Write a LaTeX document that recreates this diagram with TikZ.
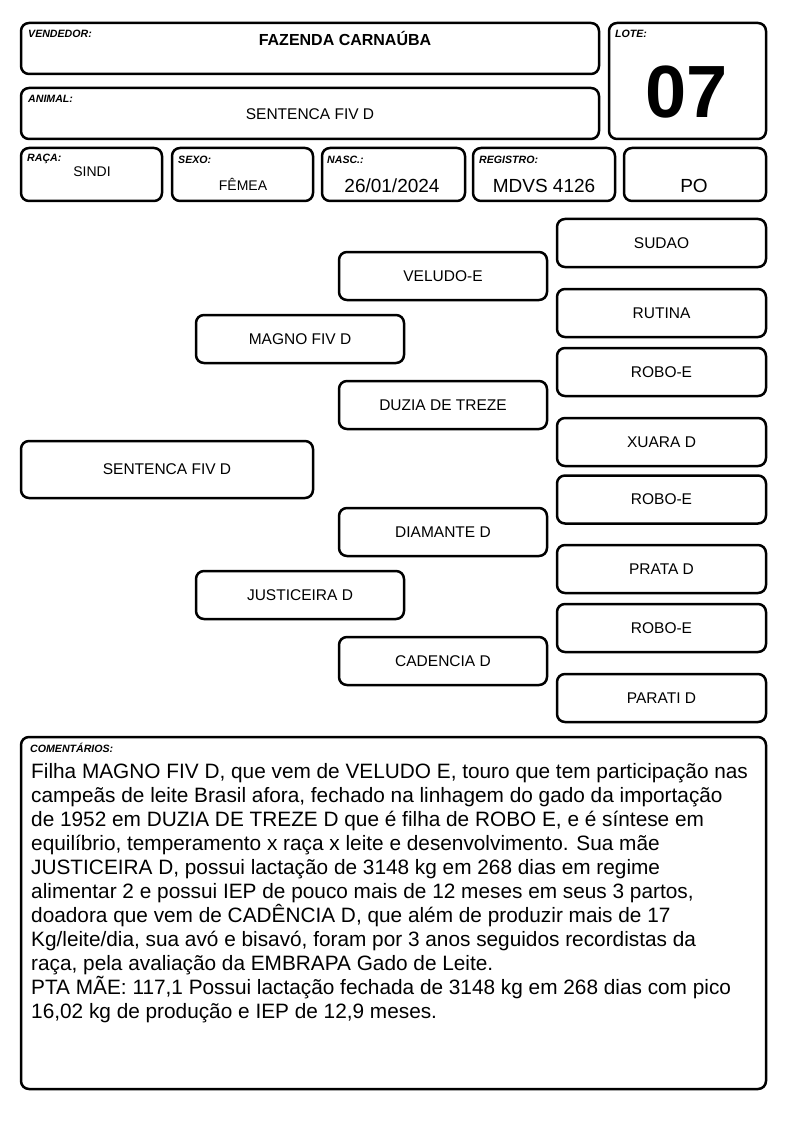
\documentclass[tikz,border=0pt]{standalone}
\usepackage{fontspec}
\setmainfont{Liberation Sans}
\usetikzlibrary{positioning}

\begin{document}
\begin{tikzpicture}%
	[x=1pt, y=-1pt,
	box/.style={draw, line width=2.5pt, rounded corners=8pt, inner sep=0pt},
	tag/.style={anchor=north west, inner sep=0pt, font=\fontsize{10.6}{11}\selectfont\bfseries\itshape},
	value/.style={inner sep=0pt, font=\fontsize{14}{16}\selectfont},
	bigvalue/.style={inner sep=0pt, font=\fontsize{19}{21}\selectfont},
	cell/.style={box, minimum height=53pt},
	ancestor/.style={box, minimum width=208pt, minimum height=48pt, font=\fontsize{15.5}{18}\selectfont},
	outer/.style={box, minimum width=209pt, minimum height=48pt, font=\fontsize{15.5}{18}\selectfont}]
%
\useasboundingbox (0,0) rectangle (794,1123);
%%
%% Header
%%
\node[box, minimum width=578pt, minimum height=51pt] (vendedor) at (310,48.5) {};
\node[tag] (vendedortag) at (28,30) {VENDEDOR:};
\node[inner sep=0pt, font=\fontsize{16}{18}\selectfont\bfseries] (vendedorname) at (345,38) {FAZENDA CARNAÚBA};
%
\node[box, minimum width=578pt, minimum height=51pt] (animal) at (310,113.5) {};
\node[tag] (animaltag) at (28,95) {ANIMAL:};
\node[inner sep=0pt, font=\fontsize{15.5}{18}\selectfont] (animalname) at (310,114) {SENTENCA FIV D};
%
\node[box, minimum width=157pt, minimum height=116pt] (lote) at (687.5,81) {};
\node[tag] (lotetag) at (615,30) {LOTE:};
\node[inner sep=0pt, font=\fontsize{74}{80}\selectfont\bfseries] (lotenum) at (687,92) {07};
%%
%% Data row
%%
\node[cell, minimum width=141pt] (raca) at (91.5,174.5) {};
\node[tag] (racatag) at (27,154) {RAÇA:};
\node[value] (racaval) at (92,172) {SINDI};
%
\node[cell, minimum width=141pt] (sexo) at (242.5,174.5) {};
\node[tag] (sexotag) at (178,156) {SEXO:};
\node[value] (sexoval) at (243,184) {FÊMEA};
%
\node[cell, minimum width=143pt] (nasc) at (393.5,174.5) {};
\node[tag] (nasctag) at (327,156) {NASC.:};
\node[bigvalue] (nascval) at (392,186) {26/01/2024};
%
\node[cell, minimum width=142pt] (registro) at (544,174.5) {};
\node[tag] (registrotag) at (479,156) {REGISTRO:};
\node[bigvalue] (registroval) at (544,186) {MDVS 4126};
%
\node[cell, minimum width=142pt] (po) at (695,174.5) {};
\node[bigvalue] (poval) at (694,186) {PO};
%%
%% Pedigree
%%
\node[box, minimum width=292pt, minimum height=57pt, font=\fontsize{15.5}{18}\selectfont] (animalx) at (167,469.5) {SENTENCA FIV D};
%
\node[ancestor] (pai) at (300,339) {MAGNO FIV D};
\node[ancestor] (mae) at (300,595) {JUSTICEIRA D};
%
\node[ancestor] (avopp) at (443,276) {VELUDO-E};
\node[ancestor] (avopm) at (443,405) {DUZIA DE TREZE};
\node[ancestor] (avomp) at (443,532) {DIAMANTE D};
\node[ancestor] (avomm) at (443,661) {CADENCIA D};
%
\node[outer] (bisa1) at (661.5,243) {SUDAO};
\node[outer] (bisa2) at (661.5,313) {RUTINA};
\node[outer] (bisa3) at (661.5,372) {ROBO-E};
\node[outer] (bisa4) at (661.5,442) {XUARA D};
\node[outer] (bisa5) at (661.5,499.5) {ROBO-E};
\node[outer] (bisa6) at (661.5,569) {PRATA D};
\node[outer] (bisa7) at (661.5,628) {ROBO-E};
\node[outer] (bisa8) at (661.5,698) {PARATI D};
%%
%% Comments
%%
\node[box, minimum width=745pt, minimum height=352pt] (comentarios) at (393.5,913) {};
\node[tag] (comentariostag) at (30,743) {COMENTÁRIOS:};
\node[anchor=north west, inner sep=0pt, align=left, font=\fontsize{20.8}{24}\selectfont] (comentariostext) at (31,763)
{Filha MAGNO FIV D, que vem de VELUDO E, touro que tem participação nas\\
campeãs de leite Brasil afora, fechado na linhagem do gado da importação\\
de 1952 em DUZIA DE TREZE D que é filha de ROBO E, e é síntese em\\
equilíbrio, temperamento x raça x leite e desenvolvimento. Sua mãe\\
JUSTICEIRA D, possui lactação de 3148 kg em 268 dias em regime\\
alimentar 2 e possui IEP de pouco mais de 12 meses em seus 3 partos,\\
doadora que vem de CADÊNCIA D, que além de produzir mais de 17\\
Kg/leite/dia, sua avó e bisavó, foram por 3 anos seguidos recordistas da\\
raça, pela avaliação da EMBRAPA Gado de Leite.\\
PTA MÃE: 117,1 Possui lactação fechada de 3148 kg em 268 dias com pico\\
16,02 kg de produção e IEP de 12,9 meses.};
%%
\end{tikzpicture}
\end{document}
